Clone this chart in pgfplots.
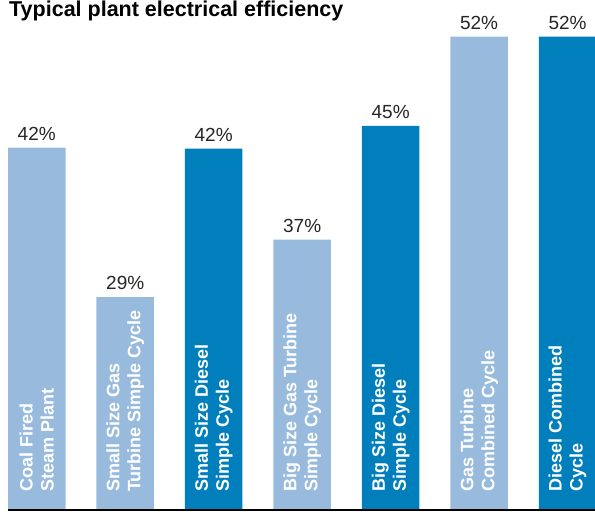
\documentclass[border=0pt]{standalone}
\usepackage{fontspec}
\setmainfont{Liberation Sans}
\usepackage{pgfplots}
\pgfplotsset{compat=1.18}
\usepackage{pgfplotstable}

\definecolor{lightbar}{RGB}{152,187,221}
\definecolor{darkbar}{RGB}{0,127,188}

% x position, drawn bar height, printed value
\pgfplotstableread{
x h v
0 39.8 42
1 23.4 29
3 29.7 37
5 52.0 52
}\lightdata
\pgfplotstableread{
x h v
2 39.7 42
4 42.2 45
6 52.0 52
}\darkdata

\begin{document}
\begin{tikzpicture}
\useasboundingbox (-8bp,-2bp) rectangle (587bp,510bp);
\begin{axis}[
    at={(0,0)}, anchor=south west,
    scale only axis,
    width=587bp, height=473.3bp,
    xmin=-0.325, xmax=6.31,
    ymin=0, ymax=52,
    ybar,
    axis on top,
    axis x line*=bottom, axis y line=none,
    x axis line style={-, line width=1.2bp, black},
    xtick={0,...,6}, major tick length=0pt,
    xticklabels={{Coal Fired\\Steam Plant},
                 {Small Size Gas\\Turbine Simple Cycle},
                 {Small Size Diesel\\Simple Cycle},
                 {Big Size Gas Turbine\\Simple Cycle},
                 {Big Size Diesel\\Simple Cycle},
                 {Gas Turbine\\Combined Cycle},
                 {Diesel Combined\\Cycle}},
    xticklabel style={rotate=90, anchor=west, align=left, inner sep=0pt,
        text=white, font=\fontsize{18bp}{21bp}\selectfont\bfseries},
    xticklabel shift=-18bp,
    point meta=explicit,
    /pgf/number format/assume math mode=true,
    nodes near coords={\pgfmathprintnumber{\pgfplotspointmeta}\%},
    nodes near coords style={anchor=south, inner sep=0pt, yshift=7bp,
        text=black!85, font=\fontsize{19bp}{22bp}\selectfont},
    title={Typical plant electrical efficiency},
    title style={at={(0,1)}, anchor=base west, inner sep=0pt, yshift=14.7bp,
        xshift=1bp, font=\fontsize{21.5bp}{25bp}\selectfont\bfseries},
]
\addplot[fill=lightbar, draw=none, bar width=57.5bp, bar shift=0pt]
    table[x=x, y=h, meta=v] {\lightdata};
\addplot[fill=darkbar, draw=none, bar width=57.5bp, bar shift=0pt]
    table[x=x, y=h, meta=v] {\darkdata};
\end{axis}
\end{tikzpicture}
\end{document}
